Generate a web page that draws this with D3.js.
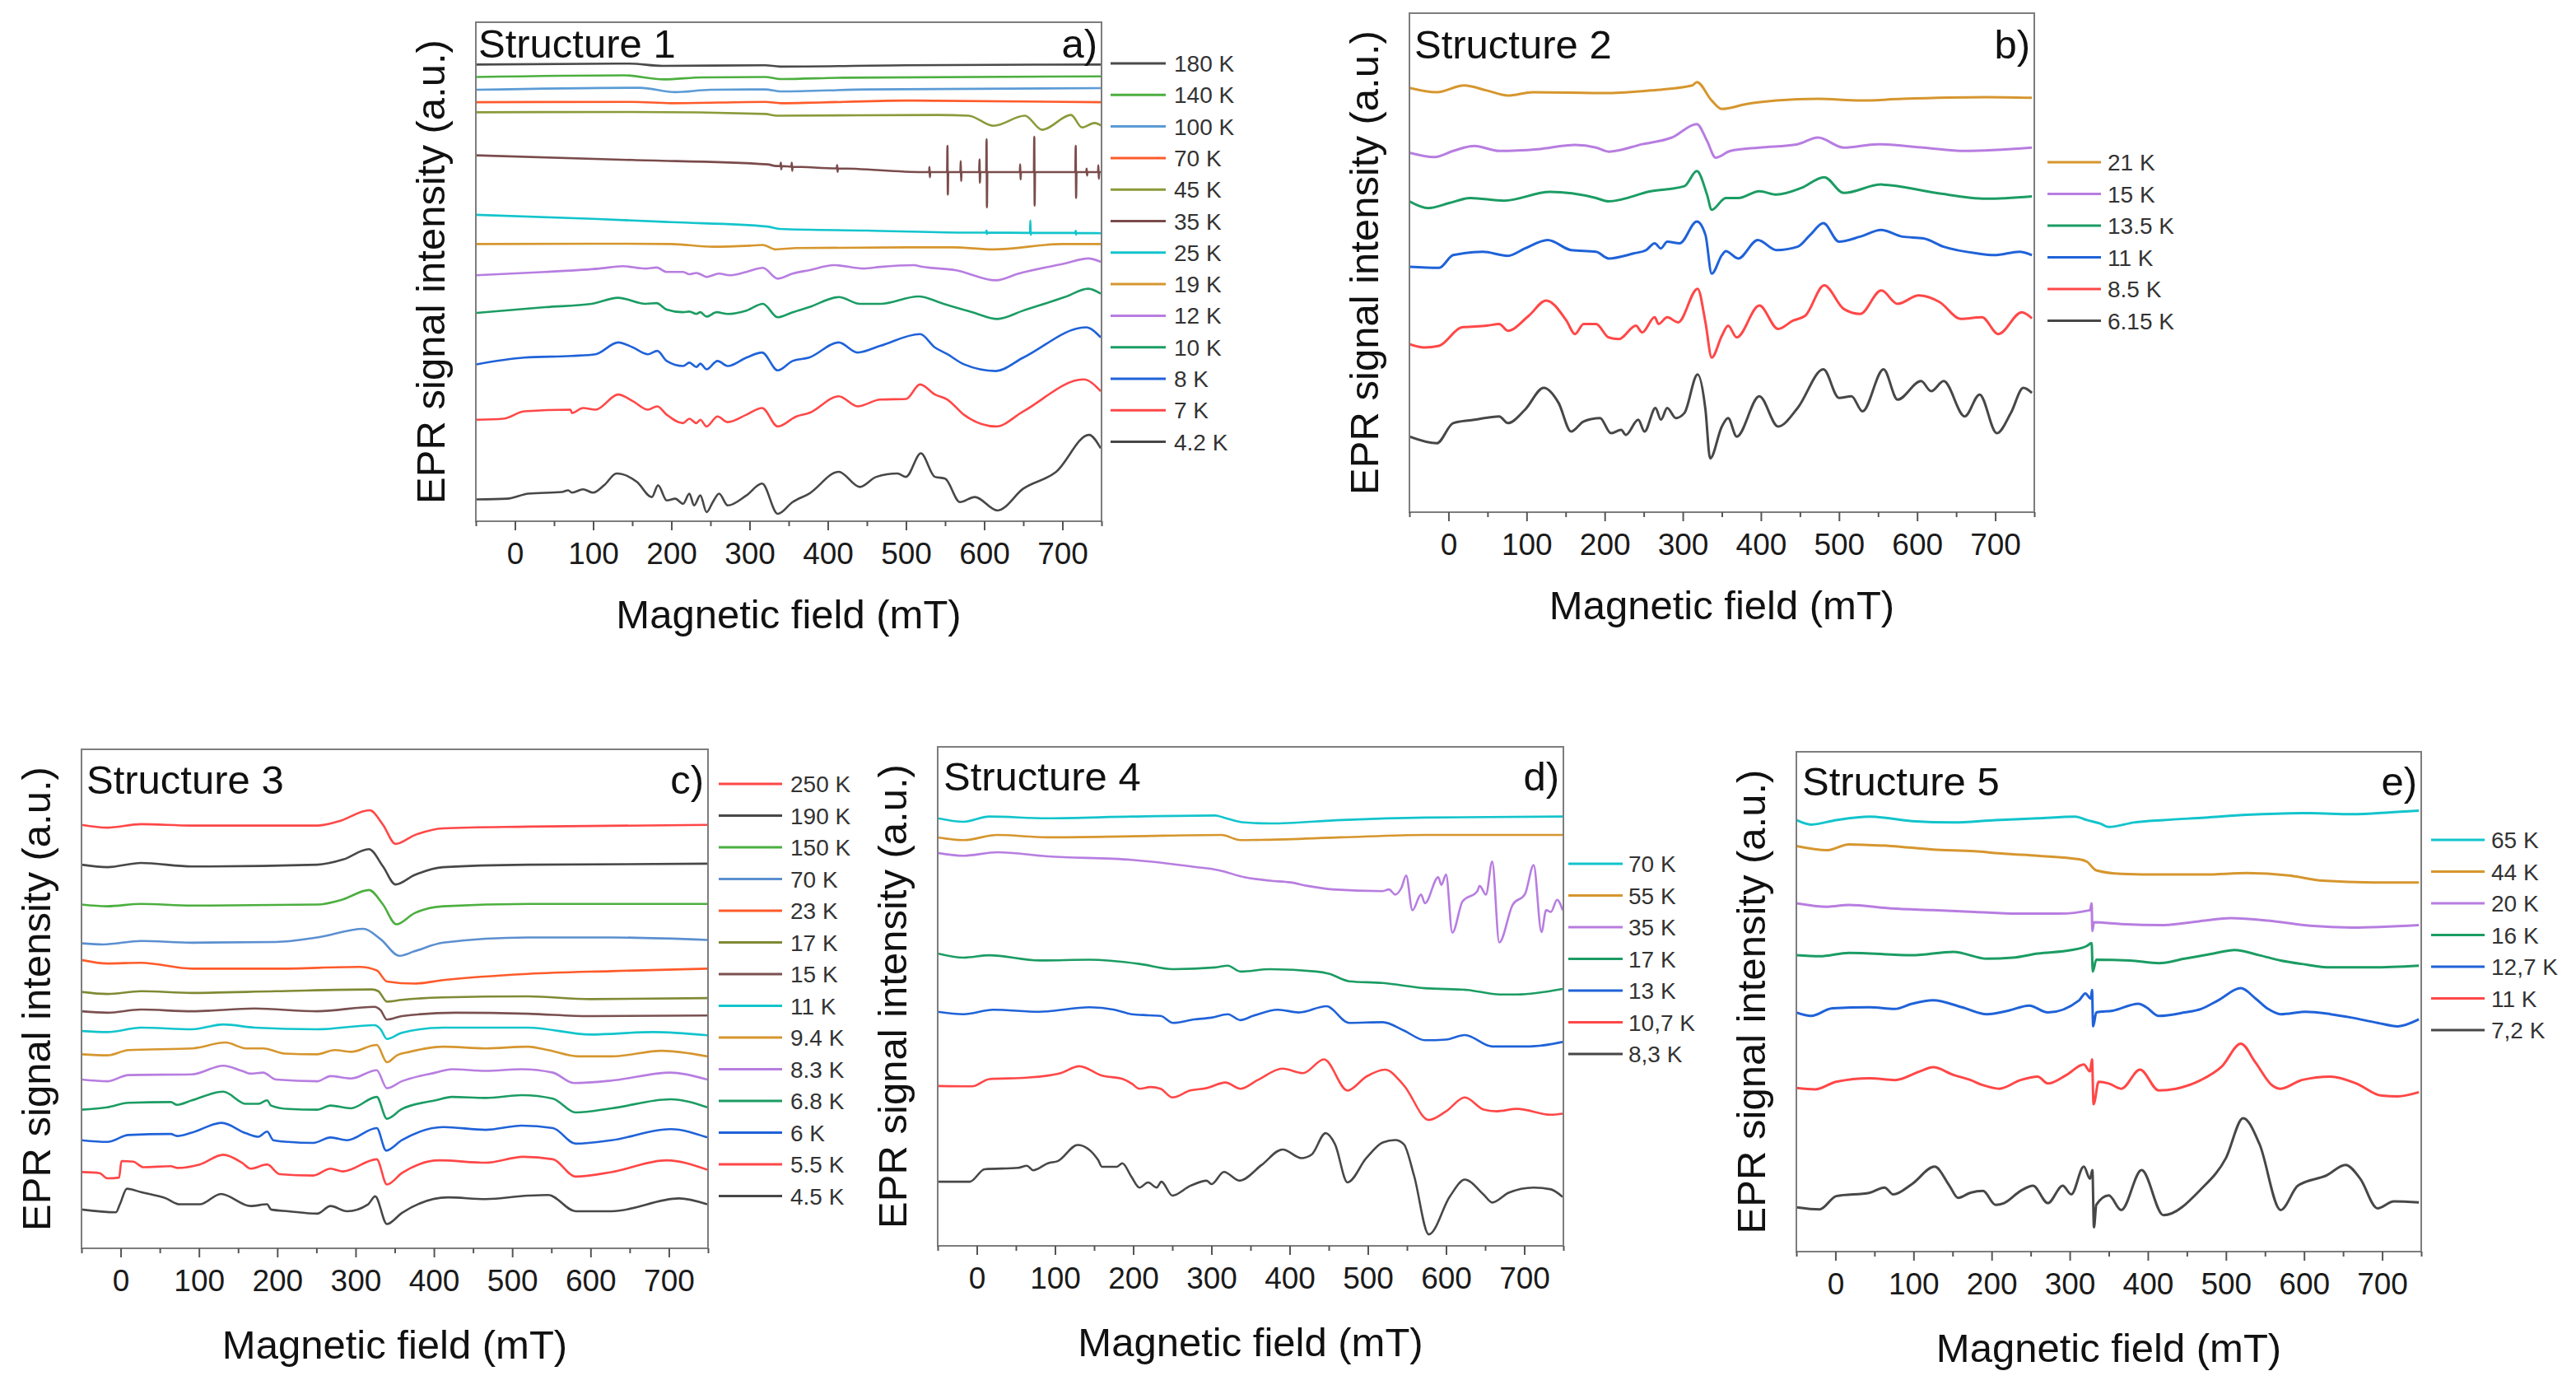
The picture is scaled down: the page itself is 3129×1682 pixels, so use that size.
<!DOCTYPE html>
<html>
<head>
<meta charset="utf-8">
<script src="https://cdn.jsdelivr.net/npm/d3@7"></script>
<style>
body { margin: 0; background: #fff; }
svg { display: block; }
</style>
</head>
<body>
<svg width="3129" height="1682"></svg>
<script>
/* global d3 */
//--------------------------DATA------------------------------------------------
// x ticks (mT)
var fieldTicks = [0, 100, 200, 300, 400, 500, 600, 700];
var minorTicks = [-50, 50, 150, 250, 350, 450, 550, 650, 750];

// Structure 1 : [field mT, intensity a.u. incl. offset]
var a180 = [[-50,1359],[146,1362],[189,1355],[320,1357],[339,1353],[500,1357],[750,1359]];
var a140 = [[-50,1322],[140,1327],[190,1315],[240,1321],[320,1322],[340,1316],[420,1320],[750,1324]];
var a100 = [[-50,1284],[160,1290],[205,1277],[250,1284],[320,1285],[340,1279],[450,1285],[750,1289]];
var a70 = [[-50,1247],[150,1248],[200,1244],[320,1248],[340,1244],[500,1252],[750,1247]];
var a45 = [[-50,1217],[150,1218],[320,1212],[335,1207],[542,1209],[580,1207],[612,1177],[652,1207],[674,1165],[711,1209],[725,1172],[741,1185],[750,1177]];
var a35 = [[-50,1089],[150,1075],[323,1062],[334,1057],[339.5,1057],[340,1067],[340.5,1047],[341,1057],[353.5,1055],[354,1067],[354.5,1043],[355,1055],
    [411.5,1050],[412,1060],[412.5,1040],[413,1050],[521,1039],[529.5,1039],[530,1054],[530.5,1024],[531,1039],[552.5,1039],[553,1117],[553.5,972],[554,1039],
    [569.5,1039],[570,1072],[570.5,1012],[571,1039],[593.5,1039],[594,1077],[594.5,1007],[595,1039],[602.5,1039],[603,1137],[603.5,934],[604,1039],
    [645.5,1039],[646,1062],[646.5,1017],[647,1039],[663.5,1039],[664,1144],[664.5,939],[665,1039],[716.5,1039],[717,1117],[717.5,962],[718,1039],
    [730.5,1039],[731,1049],[731.5,1029],[732,1039],[745.5,1039],[746,1059],[746.5,1019],[747,1039],[750,1039]];
var a25 = [[-50,912],[100,900],[200,890],[323,877],[338,870],[450,865],[574,859],[602.5,859],[603,865],[603.5,855],[604,859],[658.5,858],[659,895],[659.5,852],[660,858],
    [716.5,858],[717,864],[717.5,853],[718,858],[750,857]];
var a19 = [[-50,825],[100,826],[200,825],[253,817],[300,820],[317,822],[333,809],[360,813],[500,815],[560,815],[612,809],[700,825],[750,825]];
var a12 = [[-49,732],[39,742],[108,752],[138,759],[167,752],[181,755],[194,742],[215,742],[223,735],[232,739],[237,735],[245,727],[261,737],[274,732],[296,742],
    [317,754],[336,722],[355,737],[376,747],[408,762],[446,752],[467,757],[510,762],[521,757],[564,747],[615,717],[644,737],[703,767],[733,782],[749,772]];
var a10 = [[-49,620],[39,637],[98,647],[132,665],[167,647],[181,649],[194,630],[215,622],[223,624],[232,617],[237,622],[245,609],[258,622],[272,617],[296,627],
    [317,647],[336,607],[355,622],[376,637],[414,667],[441,647],[467,647],[516,669],[548,647],[585,622],[617,602],[650,627],[703,667],[733,692],[749,677]];
var a8 = [[-49,467],[12,487],[73,492],[103,497],[132,532],[151,517],[170,497],[182,507],[194,477],[215,462],[223,472],[232,459],[237,469],[245,452],[259,477],
    [272,462],[296,487],[316,502],[336,449],[355,477],[376,487],[414,532],[438,502],[467,522],[518,557],[537,517],[553,497],[574,467],[615,447],[650,487],[730,577],[749,547]];
var a7 = [[-49,302],[-15,305],[12,327],[71,332],[73,322],[87,337],[103,332],[132,377],[151,357],[170,332],[182,342],[194,317],[215,292],[223,305],[232,292],
    [237,302],[245,282],[259,312],[272,295],[296,317],[316,337],[336,282],[360,312],[376,322],[414,372],[438,342],[467,362],[500,364],[518,407],[537,377],
    [553,362],[574,317],[615,282],[650,327],[727,422],[749,387]];
var a4 = [[-49,65],[-10,67],[17,82],[60,87],[68,92],[73,85],[87,95],[100,85],[114,107],[130,142],[156,117],[175,72],[183,107],[194,62],[205,67],[215,52],
    [223,82],[229,47],[237,77],[245,27],[253,57],[261,82],[272,47],[296,77],[316,112],[336,22],[355,57],[376,82],[414,147],[441,102],[462,132],[489,142],
    [500,132],[519,202],[537,132],[550,127],[569,57],[588,72],[617,32],[650,97],[692,147],[734,257],[749,217]];
var aSeries = [a180, a140, a100, a70, a45, a35, a25, a19, a12, a10, a8, a7, a4];
var aLabels = ["180 K", "140 K", "100 K", "70 K", "45 K", "35 K", "25 K", "19 K", "12 K", "10 K", "8 K", "7 K", "4.2 K"];
var aColors = ["#4a4a4a", "#4caf3f", "#5b9bd5", "#ff5a2a", "#8c9a3a", "#7a4b4b", "#12c4cc", "#d6962e", "#b77de0", "#1b9c63", "#1f62d8", "#ff4747", "#474747"];

// Structure 2
var b21 = [[-50,1263],[-15,1250],[20,1270],[49,1255],[76,1240],[108,1250],[205,1247],[259,1255],[312,1270],[318,1280],[337,1225],[350,1200],[382,1215],
    [420,1225],[473,1230],[527,1225],[581,1230],[688,1235],[747,1233]];
var b15 = [[-50,1070],[-18,1057],[6,1075],[33,1090],[65,1075],[114,1080],[162,1093],[189,1085],[205,1073],[248,1095],[286,1115],[318,1155],[331,1105],
    [342,1055],[361,1075],[398,1085],[447,1095],[473,1115],[506,1085],[549,1095],[608,1085],[661,1075],[747,1085]];
var b135 = [[-50,925],[-26,905],[1,920],[28,935],[71,927],[130,953],[189,935],[205,925],[259,955],[302,970],[318,1015],[331,945],[337,900],[355,935],
    [371,935],[398,955],[420,945],[452,965],[481,997],[506,950],[554,975],[624,950],[688,933],[747,940]];
var b11 = [[-50,730],[-12,727],[6,765],[44,775],[76,763],[98,785],[127,810],[157,780],[189,775],[205,755],[237,770],[253,780],[264,800],[272,785],[280,805],
    [296,800],[318,865],[329,825],[337,710],[350,765],[355,777],[371,755],[396,810],[420,780],[447,790],[463,825],[480,860],[500,805],[527,820],[554,840],
    [581,820],[608,815],[634,790],[677,770],[699,765],[731,775],[747,765]];
var b85 = [[-50,500],[-31,490],[-12,495],[17,550],[49,555],[65,560],[76,540],[103,585],[125,630],[151,570],[162,530],[173,560],[189,560],[205,520],[218,515],
    [240,555],[248,535],[264,580],[269,560],[280,580],[294,565],[319,665],[329,565],[337,460],[350,525],[358,555],[369,520],[398,615],[422,545],[441,570],
    [457,585],[481,675],[506,605],[527,590],[554,660],[575,620],[602,645],[629,625],[656,575],[683,580],[704,530],[734,595],[747,577]];
var b615 = [[-50,225],[-15,205],[6,265],[33,275],[65,285],[76,265],[98,305],[122,370],[141,325],[157,240],[173,270],[194,280],[208,235],[221,245],[227,230],
    [243,275],[251,240],[265,310],[272,275],[280,310],[291,280],[302,295],[319,410],[329,305],[335,160],[350,255],[358,280],[369,225],[398,345],[422,255],
    [447,310],[480,425],[500,340],[516,345],[530,300],[557,425],[575,335],[605,390],[618,360],[634,390],[661,285],[680,350],[702,235],[720,295],[736,370],[747,355]];
var bSeries = [b21, b15, b135, b11, b85, b615];
var bLabels = ["21 K", "15 K", "13.5 K", "11 K", "8.5 K", "6.15 K"];
var bColors = ["#d6962e", "#b77de0", "#1b9c63", "#1f62d8", "#ff4747", "#474747"];

// Structure 3
var c250 = [[-50,1222],[-17,1214],[26,1224],[91,1220],[251,1220],[278,1232],[318,1264],[335,1222],[351,1167],[375,1192],[412,1212],[520,1217],[749,1222]];
var c190 = [[-50,1107],[-17,1100],[26,1112],[91,1102],[251,1107],[284,1122],[317,1152],[335,1102],[351,1050],[375,1077],[412,1100],[520,1107],[749,1110]];
var c150 = [[-50,992],[-17,987],[26,994],[91,989],[251,992],[284,1007],[317,1034],[335,992],[352,935],[375,967],[412,987],[520,994],[749,994]];
var c70 = [[-50,880],[-22,877],[26,887],[91,882],[198,884],[251,897],[310,922],[332,892],[356,844],[375,857],[412,882],[520,897],[627,897],[749,890]];
var c23 = [[-50,832],[-17,822],[26,824],[91,807],[198,807],[305,812],[327,802],[340,770],[375,764],[412,774],[520,792],[627,800],[749,807]];
var c17 = [[-50,740],[-17,734],[26,742],[91,737],[198,742],[321,747],[329,742],[340,712],[359,717],[412,724],[520,727],[600,719],[749,722]];
var c15 = [[-50,684],[-17,680],[26,689],[91,684],[171,692],[251,684],[324,697],[332,687],[340,660],[359,670],[428,680],[520,677],[600,670],[749,672]];
var c11 = [[-50,627],[-17,624],[26,637],[91,632],[131,646],[171,637],[251,632],[324,644],[332,632],[340,604],[359,622],[412,637],[520,637],[600,617],[680,624],[749,615]];
var c94 = [[-50,560],[-17,557],[10,572],[91,577],[134,594],[160,577],[182,577],[209,562],[251,560],[273,572],[294,567],[327,587],[340,537],[353,557],[369,567],
    [412,582],[466,577],[520,582],[546,572],[584,554],[627,554],[691,570],[749,554]];
var c83 = [[-50,487],[-17,482],[10,500],[91,502],[131,527],[155,512],[166,504],[182,507],[198,487],[251,482],[268,497],[294,490],[327,514],[340,462],[359,482],
    [402,507],[423,517],[466,512],[512,517],[552,507],[579,477],[627,484],[702,507],[749,487]];
var c68 = [[-50,400],[-17,407],[10,420],[64,422],[72,414],[91,427],[131,452],[160,417],[176,417],[187,427],[192,412],[214,402],[251,400],[268,412],[294,404],
    [327,437],[340,374],[359,402],[402,427],[423,437],[466,434],[512,442],[552,432],[581,392],[627,404],[702,430],[749,407]];
var c6 = [[-50,312],[-17,307],[10,327],[64,330],[72,324],[91,334],[129,362],[160,332],[176,322],[187,337],[195,312],[214,307],[246,304],[268,320],[289,312],
    [327,347],[339,282],[359,312],[412,350],[466,342],[512,354],[552,347],[581,302],[627,312],[702,344],[749,320]];
var c55 = [[-50,220],[-27,217],[-17,202],[-2,204],[1,252],[16,250],[29,234],[64,237],[72,232],[101,242],[131,270],[155,247],[166,230],[187,242],[203,214],
    [246,210],[268,230],[284,222],[327,257],[340,184],[359,217],[407,254],[466,247],[514,264],[552,257],[581,207],[627,220],[697,254],[749,227]];
var c45 = [[-50,112],[-6,104],[-1,127],[8,172],[26,162],[58,144],[75,127],[101,127],[128,157],[166,122],[187,127],[192,112],[214,107],[251,100],[268,122],
    [289,107],[316,127],[325,150],[340,70],[359,102],[418,147],[466,142],[520,152],[546,154],[581,107],[627,107],[713,144],[749,127]];
var cSeries = [c250, c190, c150, c70, c23, c17, c15, c11, c94, c83, c68, c6, c55, c45];
var cLabels = ["250 K", "190 K", "150 K", "70 K", "23 K", "17 K", "15 K", "11 K", "9.4 K", "8.3 K", "6.8 K", "6 K", "5.5 K", "4.5 K"];
var cColors = ["#ff4747", "#474747", "#4caf3f", "#5b8fd0", "#ff5a2a", "#7f8a34", "#7a5050", "#12c4cc", "#d6962e", "#b77de0", "#1b9c63", "#1f62d8", "#ff4747", "#474747"];

// Structure 4
var d70 = [[-50,1233],[-17,1223],[16,1238],[91,1233],[198,1238],[305,1241],[316,1235],[342,1221],[375,1218],[466,1228],[573,1235],[749,1238]];
var d55 = [[-50,1178],[-17,1170],[26,1185],[91,1178],[198,1181],[313,1185],[337,1170],[369,1171],[466,1178],[573,1185],[749,1185]];
var d35 = [[-50,1133],[-17,1125],[26,1135],[91,1123],[198,1113],[278,1093],[310,1083],[342,1063],[375,1053],[401,1048],[423,1038],[455,1028],[519,1023],
    [527,1028],[535,1013],[543,1033],[549,1068],[557,968],[568,1013],[573,988],[590,1063],[594,1041],[600,1071],[608,903],[621,993],[640,1023],[643,1038],
    [651,1013],[659,1108],[668,875],[685,983],[701,1015],[712,1098],[722,905],[728,968],[734,963],[742,998],[749,968]];
var d17 = [[-50,843],[-17,831],[16,838],[80,823],[144,825],[208,813],[251,798],[305,803],[321,808],[337,791],[375,798],[434,791],[450,785],[476,763],
    [519,758],[573,743],[627,738],[669,725],[691,725],[749,741]];
var d13 = [[-50,675],[-17,668],[21,681],[80,675],[144,688],[176,681],[198,668],[219,665],[235,663],[251,643],[278,653],[300,658],[321,668],[337,651],
    [353,663],[385,681],[412,673],[447,691],[476,643],[519,645],[546,621],[573,593],[600,595],[624,608],[659,575],[707,575],[749,588]];
var d107 = [[-50,461],[-6,460],[16,481],[64,485],[107,498],[131,518],[160,491],[187,481],[198,468],[208,453],[222,458],[235,453],[250,428],[273,448],
    [294,455],[318,471],[337,453],[359,478],[391,511],[417,498],[444,538],[474,448],[498,488],[522,508],[546,463],[578,363],[600,388],[624,428],[648,393],
    [664,388],[691,395],[734,378],[749,381]];
var d83 = [[-50,185],[-9,185],[10,221],[53,225],[64,231],[72,218],[91,238],[104,245],[129,291],[155,248],[160,228],[179,228],[186,238],[198,198],[208,168],
    [219,183],[230,168],[236,185],[250,145],[273,173],[294,188],[300,178],[316,213],[336,188],[364,233],[391,278],[415,253],[428,263],[446,325],[458,293],
    [474,183],[498,253],[519,298],[535,305],[546,293],[559,203],[578,33],[605,143],[624,191],[648,148],[659,125],[680,153],[712,168],[734,163],[749,141]];
var dSeries = [d70, d55, d35, d17, d13, d107, d83];
var dLabels = ["70 K", "55 K", "35 K", "17 K", "13 K", "10,7 K", "8,3 K"];
var dColors = ["#12c4cc", "#d6962e", "#b77de0", "#1b9c63", "#1f62d8", "#ff4747", "#474747"];

// Structure 5
var e65 = [[-50,1245],[-31,1232],[1,1245],[44,1255],[98,1242],[151,1238],[205,1245],[259,1250],[307,1255],[322,1245],[339,1235],[350,1225],[382,1238],
    [420,1245],[473,1252],[527,1260],[608,1265],[661,1262],[715,1268],[747,1272]];
var e44 = [[-50,1170],[-10,1158],[17,1175],[71,1170],[125,1160],[178,1155],[216,1148],[259,1142],[312,1132],[322,1125],[334,1100],[366,1090],[420,1088],
    [473,1088],[527,1092],[581,1085],[624,1070],[688,1065],[747,1065]];
var e20 = [[-50,1005],[-10,995],[17,1000],[71,990],[125,985],[178,980],[232,975],[286,975],[326,985],[328,1005],[329,925],[331,950],[366,945],[420,942],
    [473,955],[506,962],[554,955],[608,940],[661,935],[747,942]];
var e16 = [[-50,855],[-20,852],[17,862],[98,855],[151,865],[194,845],[227,848],[259,860],[302,870],[322,882],[328,890],[329.5,808],[334,842],[377,840],
    [414,832],[447,845],[484,860],[511,870],[543,855],[570,840],[597,830],[634,820],[688,820],[747,825]];
var e127 = [[-50,690],[-31,680],[-4,702],[44,705],[76,700],[98,715],[125,725],[162,705],[194,685],[221,695],[248,710],[272,690],[312,725],[320,745],
    [327,730],[328.5,755],[330,650],[334,690],[355,695],[388,715],[398,705],[414,680],[447,690],[468,700],[490,725],[519,760],[538,730],[554,700],[570,685],
    [602,692],[634,685],[661,675],[694,660],[720,650],[747,670]];
var e11 = [[-50,472],[-26,468],[1,490],[44,500],[76,495],[108,520],[125,532],[151,510],[173,495],[189,480],[210,470],[237,495],[259,505],[272,485],
    [296,510],[318,540],[326,520],[328.5,555],[330.5,425],[337,490],[350,485],[366,470],[390,525],[414,465],[436,470],[468,495],[495,535],[519,600],
    [538,545],[559,480],[570,470],[597,495],[634,505],[667,485],[699,450],[720,448],[747,460]];
var e72 = [[-50,128],[-20,122],[1,160],[44,170],[63,185],[74,165],[98,195],[127,245],[146,190],[157,155],[173,170],[189,175],[205,135],[216,140],
    [237,175],[253,190],[272,140],[291,190],[302,165],[318,245],[326,210],[329,235],[331,70],[334,135],[350,162],[366,120],[392,235],[420,105],[468,180],
    [500,270],[522,385],[543,310],[570,120],[592,190],[629,220],[653,250],[672,210],[694,125],[715,145],[747,142]];
var eSeries = [e65, e44, e20, e16, e127, e11, e72];
var eLabels = ["65 K", "44 K", "20 K", "16 K", "12,7 K", "11 K", "7,2 K"];
var eColors = ["#12c4cc", "#d6962e", "#b77de0", "#1b9c63", "#1f62d8", "#ff4747", "#474747"];


//--------------------------LAYOUT----------------------------------------------
var panels = [
    { id: "a", title: "Structure 1", tag: "a)", left: 578, right: 1338, top: 27, bottom: 633, yMax: 1485, titleDx: 3, titleDy: 43,
      series: aSeries, labels: aLabels, colors: aColors, lw: 2.6,
      legend: { x0: 1349, x1: 1416, tx: 1426, y0: 77, dy: 38.3 }, xTitleDy: 130 },
    { id: "b", title: "Structure 2", tag: "b)", left: 1712, right: 2471, top: 16, bottom: 622, yMax: 1485, titleDx: 6, titleDy: 55,
      series: bSeries, labels: bLabels, colors: bColors, lw: 3,
      legend: { x0: 2487, x1: 2552, tx: 2560, y0: 197, dy: 38.5 }, xTitleDy: 130 },
    { id: "c", title: "Structure 3", tag: "c)", left: 99, right: 860, top: 910, bottom: 1516, yMax: 1440, titleDx: 6, titleDy: 54,
      series: cSeries, labels: cLabels, colors: cColors, lw: 2.6,
      legend: { x0: 873, x1: 950, tx: 960, y0: 952, dy: 38.5 }, xTitleDy: 134 },
    { id: "d", title: "Structure 4", tag: "d)", left: 1139, right: 1899, top: 907, bottom: 1513, yMax: 1439, titleDx: 7, titleDy: 53,
      series: dSeries, labels: dLabels, colors: dColors, lw: 2.6,
      legend: { x0: 1905, x1: 1971, tx: 1978, y0: 1049, dy: 38.5 }, xTitleDy: 134 },
    { id: "e", title: "Structure 5", tag: "e)", left: 2182, right: 2941, top: 913, bottom: 1520, yMax: 1442, titleDx: 7, titleDy: 53,
      series: eSeries, labels: eLabels, colors: eColors, lw: 3,
      legend: { x0: 2953, x1: 3018, tx: 3026, y0: 1020, dy: 38.5 }, xTitleDy: 134 }
];

var svg = d3.select("svg");
var font = "'Liberation Sans', Arial, sans-serif";
var narrow = "'Liberation Sans Narrow', 'Arial Narrow', 'Liberation Sans', Arial, sans-serif";
var defs = svg.append("defs");

//--------------------------DRAW------------------------------------------------
panels.forEach(function(p) {
    var x = d3.scaleLinear().domain([-50, 750]).range([p.left, p.right]);
    var y = d3.scaleLinear().domain([0, p.yMax]).range([p.bottom, p.top]);
    var g = svg.append("g").attr("class", "panel-" + p.id);

    defs.append("clipPath").attr("id", "clip-" + p.id)
        .append("rect")
        .attr("x", p.left).attr("y", p.top)
        .attr("width", p.right - p.left).attr("height", p.bottom - p.top);

    var line = d3.line()
        .x(function(d) { return x(d[0]); })
        .y(function(d) { return y(d[1]); })
        .curve(d3.curveMonotoneX);

    // spectra
    g.append("g").attr("clip-path", "url(#clip-" + p.id + ")")
        .selectAll("path")
        .data(p.series)
        .enter().append("path")
        .attr("d", line)
        .style("fill", "none")
        .style("stroke", function(d, i) { return p.colors[i]; })
        .style("stroke-width", p.lw)
        .style("stroke-linejoin", "round");

    // frame
    g.append("rect")
        .attr("x", p.left).attr("y", p.top)
        .attr("width", p.right - p.left).attr("height", p.bottom - p.top)
        .style("fill", "none").style("stroke", "#7d7d7d").style("stroke-width", 2);

    // x axis, major + minor ticks
    var axis = g.append("g")
        .attr("transform", "translate(0," + p.bottom + ")")
        .call(d3.axisBottom(x).tickValues(fieldTicks).tickSize(11).tickPadding(15));
    axis.select(".domain").remove();
    axis.selectAll("line").style("stroke", "#555").style("stroke-width", 2);
    axis.selectAll("text")
        .style("font-family", narrow).style("font-size", "37px").style("fill", "#1a1a1a");
    var minor = g.append("g")
        .attr("transform", "translate(0," + p.bottom + ")")
        .call(d3.axisBottom(x).tickValues(minorTicks).tickSize(6).tickFormat(""));
    minor.select(".domain").remove();
    minor.selectAll("line").style("stroke", "#555").style("stroke-width", 2);

    // axis titles
    g.append("text")
        .attr("x", (p.left + p.right) / 2).attr("y", p.bottom + p.xTitleDy)
        .attr("text-anchor", "middle")
        .style("font-family", font).style("font-size", "49px").style("fill", "#111")
        .text("Magnetic field (mT)");
    g.append("text")
        .attr("transform", "translate(" + (p.left - 38) + "," + ((p.top + p.bottom) / 2) + ") rotate(-90)")
        .attr("text-anchor", "middle")
        .style("font-family", font).style("font-size", "49px").style("fill", "#111")
        .text("EPR signal intensity (a.u.)");

    // panel title + tag
    g.append("text")
        .attr("x", p.left + p.titleDx).attr("y", p.top + p.titleDy)
        .style("font-family", font).style("font-size", "49px").style("fill", "#111")
        .text(p.title);
    g.append("text")
        .attr("x", p.right - 5).attr("y", p.top + p.titleDy)
        .attr("text-anchor", "end")
        .style("font-family", font).style("font-size", "49px").style("fill", "#111")
        .text(p.tag);

    // legend
    var lg = g.append("g").selectAll("g")
        .data(p.labels)
        .enter().append("g")
        .attr("transform", function(d, i) { return "translate(0," + (p.legend.y0 + i * p.legend.dy) + ")"; });
    lg.append("line")
        .attr("x1", p.legend.x0).attr("x2", p.legend.x1)
        .style("stroke", function(d, i) { return p.colors[i]; })
        .style("stroke-width", 3);
    lg.append("text")
        .attr("x", p.legend.tx).attr("dy", "0.36em")
        .style("font-family", font).style("font-size", "28px").style("fill", "#333")
        .text(function(d) { return d; });
});
</script>
</body>
</html>
